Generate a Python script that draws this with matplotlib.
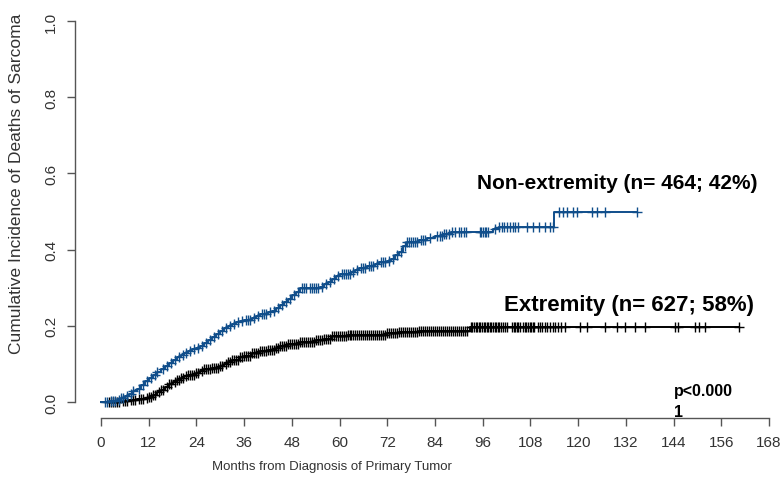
import numpy as np
import matplotlib
matplotlib.use('Agg')
import matplotlib.pyplot as plt

# step curves (month, cumulative incidence)
nonext_t = [0, 2, 4, 5, 6, 7, 8, 9, 10, 11, 12, 13, 14, 15, 16, 17, 18, 19, 20, 21, 22, 23, 24,
            25, 26, 27, 28, 29, 30, 31, 32, 33, 34, 35, 36, 38, 39, 40, 42, 43, 44, 45, 46, 47,
            48, 49, 50, 52, 55, 56, 57, 58, 59, 60, 63, 64, 65, 67, 69, 70, 72, 73, 74, 75, 76,
            77, 80, 82, 84, 86, 88, 98.5, 100, 114]
nonext_y = [0, 0.003, 0.006, 0.01, 0.015, 0.022, 0.028, 0.035, 0.045, 0.055, 0.062, 0.07, 0.078,
            0.087, 0.095, 0.103, 0.11, 0.117, 0.123, 0.128, 0.133, 0.138, 0.143, 0.148, 0.155,
            0.162, 0.17, 0.178, 0.186, 0.195, 0.2, 0.205, 0.21, 0.213, 0.216, 0.22, 0.225, 0.23,
            0.235, 0.24, 0.248, 0.255, 0.262, 0.27, 0.28, 0.29, 0.298, 0.3, 0.303, 0.31, 0.315,
            0.322, 0.33, 0.336, 0.34, 0.347, 0.353, 0.358, 0.362, 0.367, 0.37, 0.375, 0.385,
            0.395, 0.41, 0.42, 0.425, 0.43, 0.435, 0.44, 0.445, 0.455, 0.46, 0.498]
nonext_end = 134.7

ext_t = [0, 5, 7, 9, 11, 12, 13, 14, 15, 16, 17, 18, 19, 20, 21, 22, 24, 25, 26, 28, 30, 31, 32,
         33, 35, 36, 38, 40, 42, 44, 45, 47, 50, 54, 56, 58, 62, 67, 72, 75, 80, 92.8]
ext_y = [0, 0.002, 0.004, 0.007, 0.01, 0.013, 0.018, 0.025, 0.032, 0.04, 0.047, 0.053, 0.058,
         0.063, 0.068, 0.072, 0.077, 0.082, 0.087, 0.09, 0.095, 0.1, 0.105, 0.11, 0.117, 0.122,
         0.128, 0.133, 0.137, 0.143, 0.148, 0.152, 0.157, 0.162, 0.165, 0.172, 0.175, 0.177,
         0.18, 0.183, 0.187, 0.196]
ext_end = 160.5

# censoring times
nonext_cens = [1, 1.5, 2.5, 3, 3.5, 4.5, 5, 5.5, 6.5, 7.5, 8, 9.5, 10.5, 11.5, 12.5, 13.5, 14,
               15.5, 16.5, 17.5, 18.5, 19.5, 20.5, 21.5, 22.5, 23.5, 24.5, 25.5, 26.5, 27.5,
               28.5, 29.5, 30.5, 31.5, 32.5, 33.5, 34.5, 35.5, 36.5, 37, 37.5, 38.5, 39.5, 40.5,
               41, 41.5, 42.5, 43.5, 44.5, 45.5, 46.5, 47.5, 48.5, 49.5, 50.5, 51, 51.5, 52.5,
               53, 53.5, 54, 54.5, 55.5, 56.5, 57.5, 58.5, 59.5, 60.5, 61, 61.5, 62, 62.5, 63.5,
               64.5, 65.5, 66, 66.5, 67.5, 68, 68.5, 69.5, 70.5, 71, 71.5, 72.5, 73.5, 74.5,
               75.5, 76.5, 77, 77.5, 78, 78.5, 79, 79.5, 80.5, 81, 81.5, 82.7, 84.5, 85.2, 85.8,
               86.3, 86.7, 87.5, 88.2, 89, 90, 90.5, 91.3, 91.8, 95.2, 95.6, 96, 96.5, 96.9,
               97.4, 99.2, 100, 100.8, 101.4, 102.1, 102.9, 103.6, 104.2, 105, 107.1, 108.7,
               110.2, 111.7, 113, 113.7, 115.3, 116.1, 117.1, 118.8, 119.6, 123.4, 124.7, 126.8,
               134.7]
ext_cens = [2, 2.5, 3, 3.5, 4, 4.5, 5.5, 6, 6.5, 7.5, 8, 8.5, 9.5, 10, 10.5, 11.5, 12, 12.5, 13,
            13.5, 14.5, 15, 15.5, 16.5, 17, 17.5, 18.5, 19, 19.5, 20, 20.5, 21.5, 22, 22.5, 23,
            23.5, 24, 24.5, 25.5, 26, 26.5, 27, 27.5, 28, 28.5, 29, 29.5, 30, 30.5, 31.5, 32,
            32.5, 33, 33.5, 34, 34.5, 35, 35.5, 36, 36.5, 37, 37.5, 38, 38.5, 39, 39.5, 40,
            40.5, 41, 41.5, 42, 42.5, 43, 43.5, 44, 44.5, 45, 45.5, 46, 46.5, 47, 47.5, 48,
            48.5, 49, 49.5, 50, 50.5, 51, 51.5, 52, 52.5, 53, 53.5, 54, 54.5, 55, 55.5, 56,
            56.5, 57, 57.5, 58, 58.5, 59, 59.5, 60, 60.5, 61, 61.5, 62, 62.5, 63, 63.5, 64,
            64.5, 65, 65.5, 66, 66.5, 67, 67.5, 68, 68.5, 69, 69.5, 70, 70.5, 71, 71.5, 72,
            72.5, 73, 73.5, 74, 74.5, 75, 75.5, 76, 76.5, 77, 77.5, 78, 78.5, 79, 79.5, 80,
            80.5, 81, 81.5, 82, 82.5, 83, 83.5, 84, 84.5, 85, 85.5, 86, 86.5, 87, 87.5, 88,
            88.5, 89, 89.5, 90, 90.5, 91, 91.5, 92, 93, 93.4, 93.8, 94.2, 94.6, 95, 95.4, 95.8,
            96.2, 96.6, 97, 97.4, 97.8, 98.2, 98.6, 99, 99.4, 99.8, 100.2, 100.6, 101, 101.6,
            102.2, 103.4, 103.8, 104.2, 104.6, 105, 105.4, 106.2, 106.6, 107, 107.4, 107.8,
            108.2, 108.6, 109, 109.8, 110.4, 111, 111.6, 112.2, 113, 113.6, 114.2, 115, 115.8,
            116.8, 120.5, 122.2, 126.8, 129.7, 131.8, 134.3, 136.8, 144.4, 145.2, 149.4, 150.3,
            151.9, 160.5]

x_ticks = list(range(0, 169, 12))
y_ticks = [0.0, 0.2, 0.4, 0.6, 0.8, 1.0]

BLUE = '#104E8B'
AXCOL = '#555555'
TXTCOL = '#333333'
FONT = 'Liberation Sans'


def step_value(times, vals, t):
    idx = np.searchsorted(times, t, side='right') - 1
    return np.asarray(vals)[idx]


fig = plt.figure(figsize=(7.84, 4.81), dpi=100)
W, H = 784, 481
ax = fig.add_axes([101 / W, (H - 403) / H, 668 / W, 381 / H])
ax.set_xlim(0, 168)
ax.set_ylim(0, 1)

for t, y, end, cens, col in [(ext_t, ext_y, ext_end, ext_cens, 'black'),
                              (nonext_t, nonext_y, nonext_end, nonext_cens, BLUE)]:
    tt = list(t) + [end]
    yy = list(y) + [y[-1]]
    ax.step(tt, yy, where='post', color=col, lw=1.4, clip_on=False)
    cy = step_value(t, y, np.asarray(cens))
    ax.plot(cens, cy, ls='none', marker='+', ms=7.5, mew=1.0, color=col, clip_on=False)

for s in ['top', 'right']:
    ax.spines[s].set_visible(False)
ax.spines['left'].set_position(('outward', 26 * 0.72))
ax.spines['bottom'].set_position(('outward', 16 * 0.72))
ax.spines['left'].set_bounds(0, 1)
ax.spines['bottom'].set_bounds(0, 168)
for s in ['left', 'bottom']:
    ax.spines[s].set_color(AXCOL)
    ax.spines[s].set_linewidth(1.0)

ax.set_xticks(x_ticks)
ax.set_yticks(y_ticks)
ax.set_xticklabels([str(v) for v in x_ticks], family=FONT, fontsize=11, color=TXTCOL)
ax.set_yticklabels([f'{v:.1f}' for v in y_ticks], family=FONT, fontsize=11,
                   color=TXTCOL, rotation=90, va='center')
ax.tick_params(axis='both', direction='out', length=6, color=AXCOL, width=1.0)
ax.tick_params(axis='x', pad=6)
ax.tick_params(axis='y', pad=6)

fig.text(332 / W, 1 - 467 / H, 'Months from Diagnosis of Primary Tumor', family=FONT,
         fontsize=9.5, color=TXTCOL, ha='center', va='center')
fig.text(17 / W, 1 - 184 / H, 'Cumulative Incidence of Deaths of Sarcoma', family=FONT,
         fontsize=12.5, color=TXTCOL, ha='center', va='center', rotation=90)

bold = dict(family=FONT, fontweight='bold', color='black', ha='center', va='center')
ax.text(129.8, 0.575, 'Non-extremity (n= 464; 42%)', fontsize=15, **bold)
ax.text(132.8, 0.257, 'Extremity (n= 627; 58%)', fontsize=16, **bold)
ax.text(144, 0.029, 'p<0.000', fontsize=11.5, ha='left', va='center', clip_on=False,
        family=FONT, fontweight='bold')
ax.text(144, -0.026, '1', fontsize=11.5, ha='left', va='center', clip_on=False,
        family=FONT, fontweight='bold')

fig.savefig('out.png', dpi=100)
